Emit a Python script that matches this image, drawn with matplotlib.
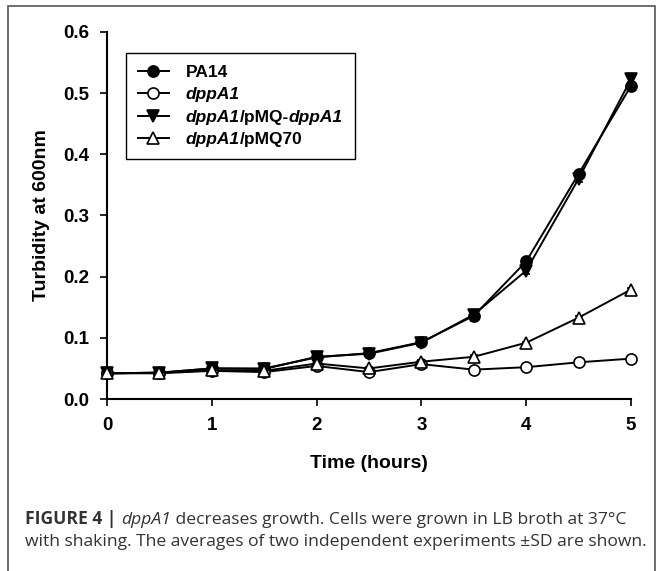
import matplotlib
matplotlib.use("Agg")
import matplotlib.pyplot as plt
from matplotlib.patches import Rectangle

plt.rcParams['font.family'] = ['Liberation Sans', 'DejaVu Sans']

# data: turbidity (OD600) over time
hours = [0, 0.5, 1, 1.5, 2, 2.5, 3, 3.5, 4, 4.5, 5]
pa14 = [0.042, 0.043, 0.050, 0.050, 0.068, 0.075, 0.093, 0.136, 0.225, 0.368, 0.512]
pa14_sd = [0.002, 0.002, 0.002, 0.002, 0.003, 0.002, 0.003, 0.008, 0.005, 0.004, 0.005]
dppa1 = [0.042, 0.042, 0.046, 0.044, 0.054, 0.044, 0.057, 0.048, 0.052, 0.060, 0.066]
dppa1_sd = [0.002, 0.002, 0.002, 0.002, 0.002, 0.002, 0.002, 0.003, 0.002, 0.002, 0.002]
comp = [0.042, 0.043, 0.050, 0.049, 0.069, 0.074, 0.092, 0.138, 0.210, 0.360, 0.523]
comp_sd = [0.002, 0.002, 0.002, 0.002, 0.003, 0.002, 0.003, 0.006, 0.005, 0.005, 0.005]
vec = [0.042, 0.043, 0.047, 0.046, 0.058, 0.050, 0.061, 0.069, 0.092, 0.133, 0.179]
vec_sd = [0.002, 0.002, 0.002, 0.002, 0.002, 0.002, 0.002, 0.003, 0.002, 0.002, 0.002]

# legend labels as (text, italic) pieces
labels = [
    [('PA14', False)],
    [('dppA1', True)],
    [('dppA1', True), ('/pMQ-', False), ('dppA1', True)],
    [('dppA1', True), ('/pMQ70', False)],
]

fig = plt.figure(figsize=(6.57, 5.71), dpi=100)
ax = fig.add_axes([107/657, 1 - 399/571, 524/657, 367/571])

series = [
    (pa14, pa14_sd, 'o', 'black'),
    (dppa1, dppa1_sd, 'o', 'white'),
    (comp, comp_sd, 'v', 'black'),
    (vec, vec_sd, '^', 'white'),
]
handles = []
for vals, sd, mk, fc in series:
    h = ax.errorbar(hours, vals, yerr=sd, marker=mk, markersize=8, color='black',
                    mfc=fc, mec='black', mew=1.2, lw=1.4, capsize=3, elinewidth=1.2,
                    zorder=3)
    h.lines[0].set_clip_on(False)
    handles.append(h.lines[0])

ax.set_xlim(0, 5)
ax.set_ylim(0, 0.6)
ax.set_xticks([0, 1, 2, 3, 4, 5])
ax.set_yticks([0.0, 0.1, 0.2, 0.3, 0.4, 0.5, 0.6])
ax.set_yticklabels(['0.0', '0.1', '0.2', '0.3', '0.4', '0.5', '0.6'])
for s in ['top', 'right']:
    ax.spines[s].set_visible(False)
for s in ['left', 'bottom']:
    ax.spines[s].set_linewidth(1.5)
ax.tick_params(direction='out', length=5, width=1.2, labelsize=13.5, pad=8)
for t in ax.get_xticklabels() + ax.get_yticklabels():
    t.set_fontweight('bold')
ax.set_xlabel('Time (hours)', fontsize=14, fontweight='bold', labelpad=15)
ax.set_ylabel('Turbidity at 600nm', fontsize=14, fontweight='bold', labelpad=9)

plain = [''.join(p for p, _ in lab) for lab in labels]
leg = ax.legend(handles, plain, loc='upper left', bbox_to_anchor=(19/524, 1 - 21/367),
                borderaxespad=0, frameon=True, fancybox=False, edgecolor='black',
                framealpha=1, prop={'size': 12.5, 'weight': 'bold'},
                handlelength=1.8, handletextpad=0.95, labelspacing=0.42,
                borderpad=0.68)
leg.get_frame().set_linewidth(1.0)

# overlay mixed italic / upright labels on the legend texts
fig.canvas.draw()
inv = fig.transFigure.inverted()
for txt, pieces in zip(leg.get_texts(), labels):
    bb = txt.get_window_extent()
    x0, y0 = inv.transform((bb.x0, (bb.y0 + bb.y1) / 2))
    txt.set_alpha(0)
    prev = None
    for s, it in pieces:
        kw = dict(fontsize=12.5, fontweight='bold', style='italic' if it else 'normal',
                  zorder=10)
        if prev is None:
            prev = fig.text(x0, y0, s, va='center', ha='left', **kw)
        else:
            prev = ax.annotate(s, xy=(1, 0), xycoords=prev, va='bottom', ha='left',
                               annotation_clip=False, **kw)

# outer frame
fig.patches.append(Rectangle((8/657, -0.05), 647/657, 1 - 6/571 + 0.05,
                             transform=fig.transFigure, fill=False,
                             edgecolor='#555555', lw=1.2))

cap_color = '#333333'
cap_font = ['Open Sans', 'DejaVu Sans']
cap_size = 12.6
c1 = fig.text(25/657, 1 - 519/571, 'FIGURE 4 | ', fontsize=cap_size, fontweight='bold',
              color=cap_color, va='center', ha='left', family=cap_font)
c2 = ax.annotate('dppA1', xy=(1, 0), xycoords=c1, va='bottom', ha='left',
                 fontsize=cap_size, style='italic', color=cap_color, family=cap_font,
                 annotation_clip=False)
ax.annotate(' decreases growth. Cells were grown in LB broth at 37°C', xy=(1, 0),
            xycoords=c2, va='bottom', ha='left', fontsize=cap_size, color=cap_color,
            family=cap_font, annotation_clip=False)
fig.text(25/657, 1 - 542/571, 'with shaking. The averages of two independent experiments ±SD are shown.',
         fontsize=cap_size, color=cap_color, va='center', ha='left', family=cap_font)

fig.savefig('out.png', dpi=100)
